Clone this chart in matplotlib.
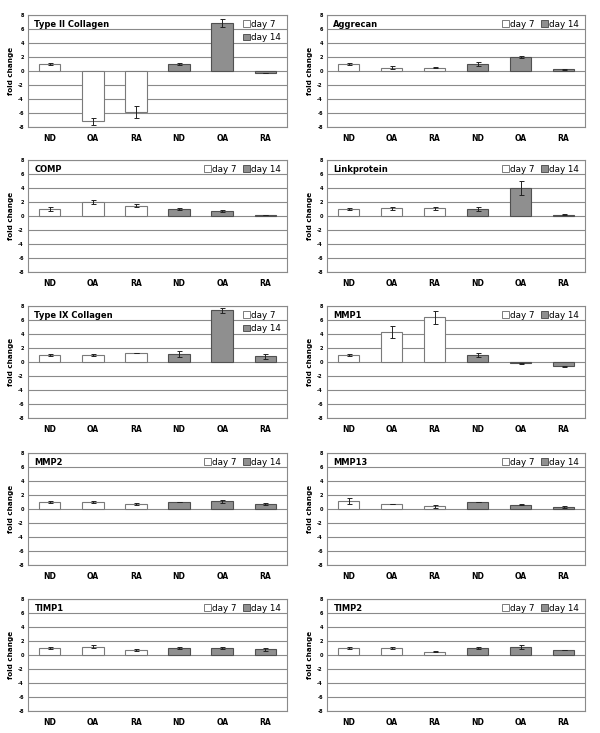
import numpy as np
import matplotlib
matplotlib.use("Agg")
import matplotlib.pyplot as plt
from matplotlib.patches import Patch

plt.rcParams['font.family'] = ['DejaVu Sans']
plt.rcParams['axes.unicode_minus'] = False

groups = ["ND", "OA", "RA", "ND", "OA", "RA"]
day = ["day 7", "day 7", "day 7", "day 14", "day 14", "day 14"]

# panel titles, in reading order (left, right per row)
titles = ["Type II Collagen", "Aggrecan", "COMP", "Linkprotein",
          "Type IX Collagen", "MMP1", "MMP2", "MMP13", "TIMP1", "TIMP2"]

# fold change values and error (6 bars each)
type2_col = [1.0, -7.2, -5.8, 1.0, 6.9, -0.3]
type2_col_err = [0.1, 0.45, 0.85, 0.2, 0.55, 0.05]
aggrecan = [1.0, 0.5, 0.5, 1.0, 2.0, 0.25]
aggrecan_err = [0.1, 0.2, 0.05, 0.3, 0.1, 0.05]
comp = [1.0, 2.0, 1.5, 1.0, 0.7, 0.1]
comp_err = [0.3, 0.35, 0.2, 0.1, 0.1, 0.02]
linkprotein = [1.0, 1.1, 1.1, 1.0, 4.0, 0.2]
linkprotein_err = [0.15, 0.2, 0.2, 0.3, 1.05, 0.05]
type9_col = [1.0, 1.0, 1.3, 1.1, 7.4, 0.8]
type9_col_err = [0.2, 0.1, 0.03, 0.45, 0.35, 0.35]
mmp1 = [1.0, 4.3, 6.4, 1.0, -0.2, -0.6]
mmp1_err = [0.15, 0.8, 0.9, 0.3, 0.03, 0.1]
mmp2 = [1.0, 1.0, 0.7, 1.0, 1.1, 0.7]
mmp2_err = [0.1, 0.1, 0.1, 0.05, 0.2, 0.1]
mmp13 = [1.1, 0.7, 0.4, 1.0, 0.6, 0.3]
mmp13_err = [0.45, 0.03, 0.2, 0.05, 0.05, 0.1]
timp1 = [1.0, 1.2, 0.7, 1.0, 1.0, 0.8]
timp1_err = [0.1, 0.25, 0.1, 0.15, 0.2, 0.2]
timp2 = [1.0, 1.0, 0.5, 1.0, 1.2, 0.7]
timp2_err = [0.1, 0.15, 0.05, 0.2, 0.3, 0.05]

values = [type2_col, aggrecan, comp, linkprotein, type9_col,
          mmp1, mmp2, mmp13, timp1, timp2]
errors = [type2_col_err, aggrecan_err, comp_err, linkprotein_err, type9_col_err,
          mmp1_err, mmp2_err, mmp13_err, timp1_err, timp2_err]
two_row_legend = ["Type II Collagen", "Type IX Collagen"]

yticks = [-8, -6, -4, -2, 0, 2, 4, 6, 8]

W, H = 600, 733
fig = plt.figure(figsize=(W / 100, H / 100), dpi=100)

col_x = [(28, 287), (327, 585)]
row_top = [15, 160, 306, 453, 599]
ax_h = 112

colors = {"day 7": "white", "day 14": "#8f8f8f"}
edges = {"day 7": "#7a7a7a", "day 14": "#505050"}

for i, name in enumerate(titles):
    r, c = divmod(i, 2)
    x0, x1 = col_x[c]
    top = row_top[r]
    ax = fig.add_axes([x0 / W, 1 - (top + ax_h) / H, (x1 - x0) / W, ax_h / H])

    x = np.arange(len(groups))
    ax.bar(x, values[i], width=0.5,
           color=[colors[d] for d in day],
           edgecolor=[edges[d] for d in day], linewidth=0.8, zorder=3)
    ax.errorbar(x, values[i], yerr=errors[i], fmt='none', ecolor='#222222',
                elinewidth=0.7, capsize=1.8, capthick=0.7, zorder=4)

    ax.set_ylim(-8, 8)
    ax.set_xlim(-0.5, 5.5)
    ax.set_yticks(yticks)
    ax.set_yticklabels([str(t) for t in yticks], fontsize=3.6, fontweight='bold')
    ax.set_xticks(x)
    ax.set_xticklabels(groups, fontsize=5.5, fontweight='bold')
    ax.tick_params(axis='x', length=0, pad=5)
    ax.tick_params(axis='y', length=0, pad=3)
    ax.yaxis.grid(True, color='#8a8a8a', linewidth=0.8, zorder=0)
    ax.set_axisbelow(True)
    for s in ax.spines.values():
        s.set_color('#8a8a8a')
        s.set_linewidth(0.8)
    ax.set_ylabel("fold change", fontsize=5.2, fontweight='bold', labelpad=3)

    ax.text(0.025, 0.915, name, transform=ax.transAxes, fontsize=6,
            fontweight='bold', va='center', ha='left', zorder=5)

    handles = [Patch(facecolor='white', edgecolor='#666666', linewidth=0.6, label='day 7'),
               Patch(facecolor='#8f8f8f', edgecolor='#444444', linewidth=0.6, label='day 14')]
    ncol = 1 if name in two_row_legend else 2
    ax.legend(handles=handles, loc='upper right', ncol=ncol, frameon=False,
              fontsize=6.3, handlelength=0.8, handleheight=0.8, handletextpad=0.15,
              columnspacing=0.7, borderaxespad=0.25, labelspacing=0.5,
              bbox_to_anchor=(1.0, 1.01))

fig.savefig("out.png", dpi=100)
